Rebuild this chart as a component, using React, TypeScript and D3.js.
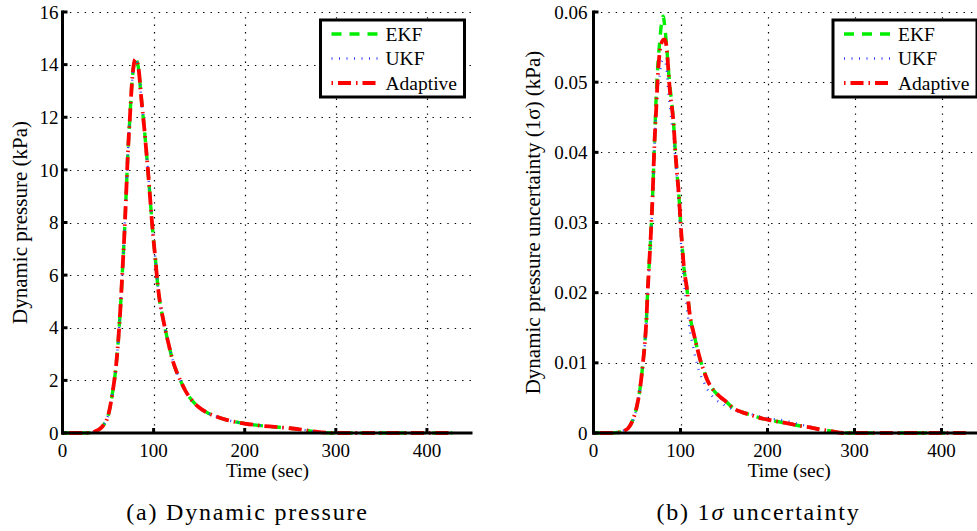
import React from "react";
import * as d3 from "d3";

// ---------- DATA ----------
const T_Q = [0, 10, 20, 30, 35, 40, 45, 50, 55, 58, 60, 62, 64, 66, 68, 70, 72, 74, 76, 78, 80, 82, 84, 86, 88, 90, 92, 94, 96, 98, 100, 102, 104, 107, 110, 113, 117, 121, 125, 130, 135, 140, 150, 160, 170, 180, 190, 200, 210, 220, 230, 240, 250, 260, 270, 280, 290, 300, 320, 340, 360, 380, 400, 428];
const EKF_Q = [0, 0, 0, 0.01, 0.05, 0.13, 0.3, 0.65, 1.55, 2.3, 3.0, 3.9, 5.0, 6.3, 7.6, 9.2, 10.8, 12.0, 13.2, 13.9, 14.2, 14.1, 13.7, 12.9, 12.2, 11.5, 10.7, 9.9, 9.0, 8.1, 7.3, 6.6, 5.8, 4.95, 4.4, 3.9, 3.3, 2.75, 2.35, 1.95, 1.6, 1.33, 0.97, 0.75, 0.61, 0.5, 0.42, 0.36, 0.31, 0.27, 0.24, 0.21, 0.18, 0.14, 0.09, 0.04, 0.01, 0, 0, 0, 0, 0, 0, 0];
const UKF_Q = [0, 0, 0, 0.01, 0.05, 0.13, 0.31, 0.66, 1.56, 2.3, 3.0, 3.9, 5.0, 6.3, 7.6, 9.2, 10.8, 12.0, 13.2, 13.9, 14.15, 14.1, 13.7, 12.9, 12.2, 11.5, 10.7, 9.9, 9.0, 8.1, 7.3, 6.6, 5.8, 4.95, 4.4, 3.9, 3.3, 2.75, 2.35, 1.95, 1.6, 1.33, 0.97, 0.75, 0.61, 0.5, 0.42, 0.36, 0.31, 0.27, 0.24, 0.21, 0.18, 0.14, 0.09, 0.04, 0.01, 0, 0, 0, 0, 0, 0, 0];
const ADAPT_Q = [0, 0, 0, 0.01, 0.05, 0.13, 0.3, 0.65, 1.55, 2.3, 3.0, 3.9, 5.0, 6.3, 7.6, 9.2, 10.8, 12.0, 13.2, 13.95, 14.2, 14.1, 13.7, 12.9, 12.2, 11.5, 10.7, 9.9, 9.0, 8.1, 7.3, 6.6, 5.8, 4.95, 4.4, 3.9, 3.3, 2.75, 2.35, 1.95, 1.6, 1.33, 0.97, 0.75, 0.61, 0.5, 0.42, 0.36, 0.31, 0.27, 0.24, 0.21, 0.18, 0.14, 0.09, 0.04, 0.01, 0, 0, 0, 0, 0, 0, 0];

const T_S = [0, 10, 20, 30, 35, 40, 45, 50, 54, 57, 59, 61, 62, 64, 66, 68, 70, 72, 74, 76, 78, 80, 82, 84, 86, 88, 90, 92, 94, 96, 98, 100, 102, 104, 107, 111, 115, 119, 123, 127, 131, 135, 140, 146, 153, 161, 170, 180, 190, 200, 213, 226, 238, 249, 260, 272, 287, 300, 320, 350, 380, 410, 428];
const EKF_S = [0, 0, 0, 0.0001, 0.0003, 0.0007, 0.0018, 0.0039, 0.0068, 0.0102, 0.0128, 0.0166, 0.0195, 0.024, 0.0285, 0.034, 0.041, 0.0478, 0.0525, 0.0556, 0.0582, 0.0594, 0.0578, 0.0552, 0.052, 0.0492, 0.047, 0.0442, 0.0402, 0.037, 0.0341, 0.0302, 0.0265, 0.0235, 0.0209, 0.0166, 0.0143, 0.0122, 0.0103, 0.0088, 0.0075, 0.0066, 0.0058, 0.0051, 0.0044, 0.0035, 0.003, 0.0026, 0.0022, 0.0019, 0.0016, 0.0013, 0.001, 0.0008, 0.0005, 0.0003, 0, 0, 0, 0, 0, 0, 0];
const UKF_S = [0, 0, 0, 0.0001, 0.0004, 0.0009, 0.0016, 0.0038, 0.0066, 0.0099, 0.0126, 0.0164, 0.0192, 0.0236, 0.028, 0.0335, 0.0405, 0.046, 0.049, 0.0508, 0.0528, 0.0532, 0.053, 0.052, 0.0485, 0.0465, 0.044, 0.0425, 0.039, 0.036, 0.032, 0.028, 0.0245, 0.0215, 0.018, 0.0145, 0.012, 0.0098, 0.0083, 0.0072, 0.0062, 0.0055, 0.0048, 0.0043, 0.0038, 0.0033, 0.0029, 0.0027, 0.0024, 0.0021, 0.0019, 0.0016, 0.0012, 0.0009, 0.0006, 0.0003, 0, 0, 0, 0, 0, 0, 0];
const ADAPT_S = [0, 0, 0, 0.0001, 0.0003, 0.0007, 0.0018, 0.0039, 0.0068, 0.0102, 0.0128, 0.0166, 0.0195, 0.024, 0.0285, 0.034, 0.041, 0.046, 0.051, 0.0542, 0.0555, 0.056, 0.0561, 0.055, 0.0518, 0.0485, 0.0465, 0.0442, 0.0402, 0.037, 0.0341, 0.0302, 0.0265, 0.0235, 0.0209, 0.0166, 0.0143, 0.0122, 0.0103, 0.0088, 0.0075, 0.0066, 0.0058, 0.0051, 0.0044, 0.0035, 0.003, 0.0026, 0.0022, 0.0019, 0.0016, 0.0013, 0.001, 0.0008, 0.0005, 0.0003, 0, 0, 0, 0, 0, 0, 0];

const X_TICKS = [0, 100, 200, 300, 400];
const Y_TICKS_Q = [0, 2, 4, 6, 8, 10, 12, 14, 16];
const Y_TICKS_S = [0, 0.01, 0.02, 0.03, 0.04, 0.05, 0.06];
const SERIES_NAMES = ["EKF", "UKF", "Adaptive"];

// ---------- STYLE ----------
const FONT = "Liberation Serif, Times New Roman, Times, serif";
const STYLES = [
  { color: "#00ee00", width: 3.4, dash: "10,8" },
  { color: "#2f40ff", width: 2.4, dash: "1,6.5" },
  { color: "#ff0000", width: 3.8, dash: "1.5,5,13,5" },
];

type PanelProps = {
  x0: number;
  x1: number;
  t: number[];
  series: number[][];
  yMax: number;
  yTicks: number[];
  yFmt: (v: number) => string;
  yLabel: React.ReactNode;
  yLabelX: number;
  tickGap: number;
};

function Panel(p: PanelProps) {
  const y0 = 433;
  const y1 = 12;
  const x = d3.scaleLinear().domain([0, 450]).range([p.x0, p.x1]);
  const y = d3.scaleLinear().domain([0, p.yMax]).range([y0, y1]);
  const line = d3
    .line<[number, number]>()
    .x((d) => x(d[0]))
    .y((d) => y(d[1]))
    .curve(d3.curveMonotoneX);
  const lx = p.x1 - 152;
  const ly = y1 + 8;
  return (
    <g>
      {/* grid */}
      {X_TICKS.filter((v) => v > 0).map((v) => (
        <line key={"gx" + v} x1={Math.round(x(v)) + 0.5} x2={Math.round(x(v)) + 0.5} y1={y0} y2={y1}
          stroke="#000" strokeWidth={1.2} strokeDasharray="1.4,6" />
      ))}
      {p.yTicks.filter((v) => v > 0).map((v) => (
        <line key={"gy" + v} x1={p.x0} x2={p.x1} y1={Math.round(y(v)) + 0.5} y2={Math.round(y(v)) + 0.5}
          stroke="#000" strokeWidth={1.2} strokeDasharray="1.4,6" />
      ))}
      {/* curves */}
      {p.series.map((s, i) => (
        <path key={"s" + i}
          d={line(p.t.map((tv, k) => [tv, s[k]] as [number, number])) || ""}
          fill="none" stroke={STYLES[i].color} strokeWidth={STYLES[i].width}
          strokeDasharray={STYLES[i].dash} />
      ))}
      {/* axes */}
      <line x1={p.x0} x2={p.x0} y1={y0 + 1.5} y2={y1 - 1.5} stroke="#000" strokeWidth={3} />
      <line x1={p.x0 - 1.5} x2={p.x1} y1={y0} y2={y0} stroke="#000" strokeWidth={3} />
      {X_TICKS.map((v) => (
        <g key={"xt" + v}>
          <line x1={x(v)} x2={x(v)} y1={y0} y2={y0 - 5} stroke="#000" strokeWidth={3} />
          <text x={x(v)} y={457} textAnchor="middle" fontFamily={FONT} fontSize={19}>{v}</text>
        </g>
      ))}
      {p.yTicks.map((v) => (
        <g key={"yt" + v}>
          <line x1={p.x0} x2={p.x0 + 5} y1={y(v)} y2={y(v)} stroke="#000" strokeWidth={3} />
          <text x={p.x0 - p.tickGap} y={y(v)} dy="0.35em" textAnchor="end" fontFamily={FONT} fontSize={19}>{p.yFmt(v)}</text>
        </g>
      ))}
      <text x={(p.x0 + p.x1) / 2} y={477} textAnchor="middle" fontFamily={FONT} fontSize={19.5}>Time (sec)</text>
      <text transform={`translate(${p.yLabelX},${(y0 + y1) / 2}) rotate(-90)`} textAnchor="middle"
        fontFamily={FONT} fontSize={21}>{p.yLabel}</text>
      {/* legend */}
      <rect x={lx} y={ly} width={144} height={77} fill="#fff" stroke="#000" strokeWidth={3} />
      {SERIES_NAMES.map((name, i) => (
        <g key={"lg" + i}>
          <line x1={lx + 11} x2={lx + 60} y1={ly + 14 + i * 24.5} y2={ly + 14 + i * 24.5}
            stroke={STYLES[i].color} strokeWidth={STYLES[i].width} strokeDasharray={STYLES[i].dash} />
          <text x={lx + 65} y={ly + 14 + i * 24.5} dy="0.35em" fontFamily={FONT} fontSize={19.5}>{name}</text>
        </g>
      ))}
    </g>
  );
}

export default function App() {
  return (
    <svg width={977} height={531} style={{ position: "absolute", left: 0, top: 0, background: "#fff" }}>
      <rect x={0} y={0} width={977} height={531} fill="#fff" />
      <Panel x0={62.5} x1={472.5} t={T_Q} series={[EKF_Q, UKF_Q, ADAPT_Q]} yMax={16} yTicks={Y_TICKS_Q}
        yFmt={(v) => String(v)} yLabel="Dynamic pressure (kPa)" yLabelX={27} tickGap={4} />
      <Panel x0={593.5} x1={985} t={T_S} series={[EKF_S, UKF_S, ADAPT_S]} yMax={0.06} yTicks={Y_TICKS_S}
        yFmt={(v) => (v === 0 ? "0" : d3.format(".2f")(v))}
        yLabel="Dynamic pressure uncertainty (1σ) (kPa)" yLabelX={540} tickGap={6} />
      <text x={247.5} y={520} textAnchor="middle" fontFamily={FONT} fontSize={24} letterSpacing={1.8}>(a) Dynamic pressure</text>
      <text x={758.5} y={520} textAnchor="middle" fontFamily={FONT} fontSize={24} letterSpacing={1.8}>
        <tspan>(b) 1</tspan><tspan fontStyle="italic">σ</tspan><tspan> uncertainty</tspan>
      </text>
    </svg>
  );
}
